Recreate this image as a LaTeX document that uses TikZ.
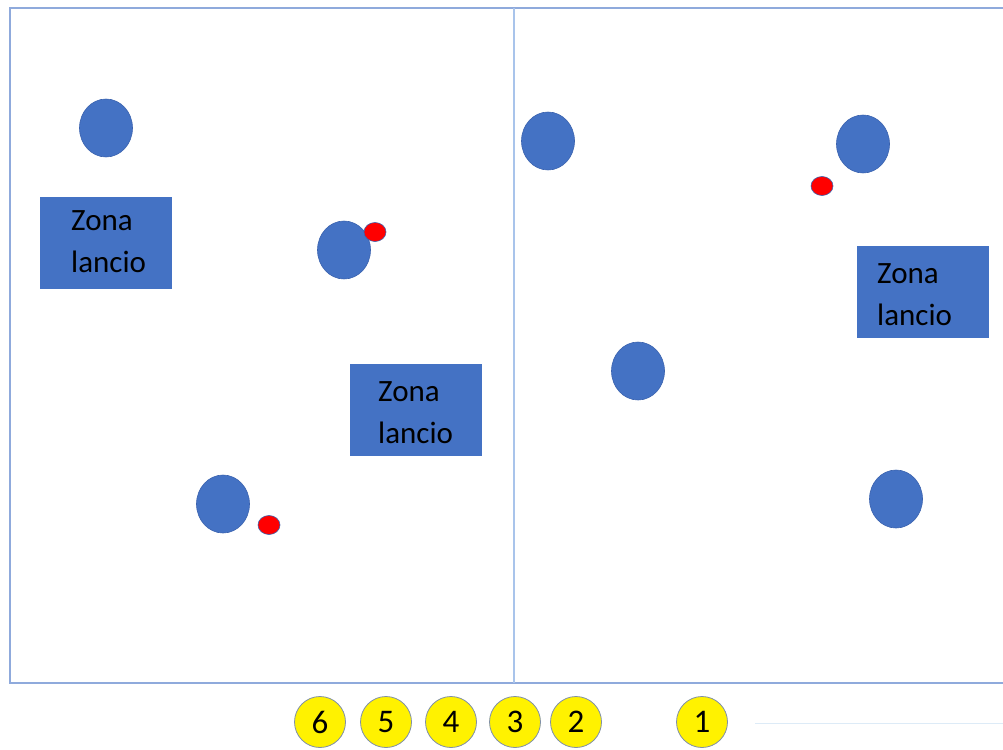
\documentclass[tikz,border=0pt]{standalone}
\usepackage{fontspec}
\setmainfont{Carlito}
\usetikzlibrary{shapes.geometric}
\definecolor{frame}{HTML}{8FAADC}
\definecolor{midline}{HTML}{A9C4EB}
\definecolor{faint}{HTML}{DDEBF7}
\definecolor{pblue}{HTML}{4472C4}
\definecolor{pedge}{HTML}{3A62AE}
\definecolor{yedge}{HTML}{7F8FA9}
\begin{document}
\begin{tikzpicture}[x=1pt,y=-1pt,
  player/.style={ellipse,fill=pblue,draw=pedge,line width=0.6pt,minimum width=53pt,minimum height=58pt,inner sep=0pt},
  ball/.style={ellipse,fill=red,draw=pedge,line width=0.6pt,minimum width=22pt,minimum height=19pt,inner sep=0pt},
  zone/.style={rectangle,fill=pblue,draw=pblue,minimum width=131pt,minimum height=91pt,inner sep=0pt},
  zonetxt/.style={anchor=north west,align=left,font=\fontsize{31}{42}\selectfont,inner sep=0pt,text=black},
  num/.style={circle,fill=yellow,draw=yedge,line width=0.8pt,minimum size=51pt,inner sep=0pt,font=\fontsize{33}{33}\selectfont},
]
\useasboundingbox (0,0) rectangle (1003,749);
% frame
\coordinate (tr) at (1003,8);
\coordinate (tl) at (10,8);
\coordinate (bl) at (10,683);
\coordinate (br) at (1003,683);
\draw[frame,line width=1.6pt] (tr) -- (tl) -- (bl) -- (br);
\coordinate (mt) at (514,8);
\coordinate (mb) at (514,683);
\draw[midline,line width=1.2pt] (mt) -- (mb);
\coordinate (fl) at (755,723);
\coordinate (fr) at (1003,723);
\draw[faint,line width=1pt] (fl) -- (fr);
% zones
\node[zone] (z1) at (105.5,242.5) {};
\node[zone] (z2) at (415.5,409.5) {};
\node[zone] (z3) at (922.5,292) {};
\node[zonetxt] (t1) at (71,210) {Zona\\lancio};
\node[zonetxt] (t2) at (378,381) {Zona\\lancio};
\node[zonetxt] (t3) at (877,263) {Zona\\lancio};
% players
\node[player] (p1) at (106,128) {};
\node[player] (p2) at (548,141) {};
\node[player] (p3) at (863,144) {};
\node[player] (p4) at (344,250) {};
\node[player] (p5) at (638,371) {};
\node[player] (p6) at (223,504) {};
\node[player] (p7) at (896,499) {};
% balls
\node[ball] (b1) at (375,232) {};
\node[ball] (b2) at (822,186) {};
\node[ball] (b3) at (269,525) {};
% numbers
\node[num] (n6) at (320,722) {\raisebox{-3pt}{6}};
\node[num] (n5) at (386,722) {\raisebox{-3pt}{5}};
\node[num] (n4) at (451,722) {\raisebox{-3pt}{4}};
\node[num] (n3) at (515,722) {\raisebox{-3pt}{3}};
\node[num] (n2) at (576,722) {\raisebox{-3pt}{2}};
\node[num] (n1) at (702,722) {\raisebox{-3pt}{1}};
\end{tikzpicture}
\end{document}
